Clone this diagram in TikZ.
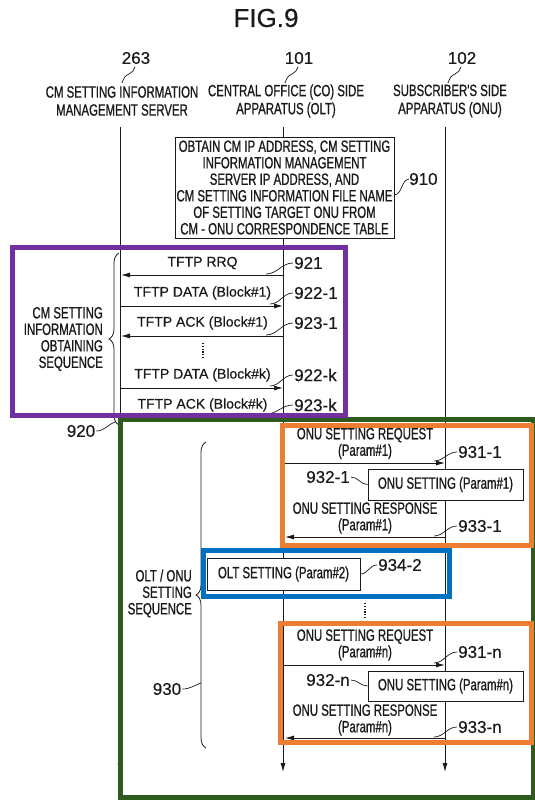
\documentclass[tikz,border=0pt]{standalone}
\usepackage{fontspec}
\setmainfont{Liberation Sans}
\newfontfamily\cf[FakeStretch=0.7,FakeBold=0.8]{Liberation Sans}
\newfontfamily\nf[FakeBold=0.4]{Liberation Sans}
\usetikzlibrary{arrows.meta,decorations.pathreplacing}
\definecolor{cpurple}{HTML}{7030A0}
\definecolor{cgreen}{HTML}{2E5A1E}
\definecolor{corange}{HTML}{ED7D31}
\definecolor{cblue}{HTML}{0070C0}
\definecolor{ink}{HTML}{1A1A1A}
\begin{document}
\begin{tikzpicture}[x=1pt,y=-1pt,
  cond/.style={font=\cf\fontsize{16.3}{16.5}\selectfont, align=center, inner sep=0pt, text=ink},
  hdr/.style={font=\cf\fontsize{16.3}{18}\selectfont, align=center, inner sep=0pt, text=ink},
  numl/.style={font=\nf\fontsize{17}{17}\selectfont, inner sep=0pt, text=ink},
  tftp/.style={font=\nf\fontsize{14}{14}\selectfont, inner sep=0pt, text=ink},
  life/.style={line width=0.9pt, draw=ink},
  msg/.style={line width=0.9pt, draw=ink, -{Latex[length=9pt,width=5pt]}},
  lead/.style={line width=0.7pt, draw=ink},
  frame/.style={line width=5pt},
  procbox/.style={draw=ink, line width=0.9pt, fill=white, inner sep=0pt, font=\cf\fontsize{16.3}{16.5}\selectfont, align=center, text=ink},
  brc/.style={line width=0.8pt, draw=ink, decorate, decoration={brace, amplitude=10pt}},
  dotl/.style={line width=1.3pt, draw=ink, dash pattern=on 1.2pt off 1.6pt},
]
\useasboundingbox (0,0) rectangle (535,801);
\fill[white] (0,0) rectangle (535,801);

% title and headers
\node[font=\nf\fontsize{26}{26}\selectfont, inner sep=0pt, text=ink] (fig) at (266,18) {FIG.9};
\node[numl] (n263) at (136,58) {263};
\node[numl] (n101) at (299,58) {101};
\node[numl] (n102) at (462,58) {102};
\node[hdr] (l263) at (122,101) {CM SETTING INFORMATION\\MANAGEMENT SERVER};
\node[hdr] (l101) at (286,101) {CENTRAL OFFICE (CO) SIDE\\APPARATUS (OLT)};
\node[hdr] (l102) at (450,101) {SUBSCRIBER'S SIDE\\APPARATUS (ONU)};
\draw[lead] (122,83) to[out=70,in=200] (129,74) to[out=20,in=250] (135,67);
\draw[lead] (285,83) to[out=70,in=200] (292,74) to[out=20,in=250] (298,67);
\draw[lead] (448,83) to[out=70,in=200] (455,74) to[out=20,in=250] (461,67);

% lifelines
\coordinate (t263) at (120,127); \coordinate (b263) at (120,772);
\coordinate (t101) at (283,127); \coordinate (b101) at (283,772);
\coordinate (t102) at (445,127); \coordinate (b102) at (445,772);
\draw[msg] (t263) -- (b263);
\draw[msg] (t101) -- (b101);
\draw[msg] (t102) -- (b102);

% step 910
\node[procbox, minimum width=219pt, minimum height=101pt] (b910) at (284.5,187.5)
  {OBTAIN CM IP ADDRESS, CM SETTING\\INFORMATION MANAGEMENT\\SERVER IP ADDRESS, AND\\CM SETTING INFORMATION FILE NAME\\OF SETTING TARGET ONU FROM\\CM - ONU CORRESPONDENCE TABLE};
\node[numl, anchor=west] (n910) at (409,179) {910};
\draw[lead] (b910.east |- 0,195) to[out=10,in=190] (n910.west);

% TFTP sequence
\node[tftp] (m921) at (202.5,263) {TFTP RRQ};
\coordinate (s921) at (283,275); \coordinate (e921) at (121,275);
\draw[msg] (s921) -- (e921);
\node[numl, anchor=west] (n921) at (294,263) {921};
\draw[lead] (266,274) to[out=0,in=180] ([xshift=-1pt]n921.west);

\node[tftp] (m9221) at (202.5,293) {TFTP DATA (Block\#1)};
\coordinate (s9221) at (121,306); \coordinate (e9221) at (283,306);
\draw[msg] (s9221) -- (e9221);
\node[numl, anchor=west] (n9221) at (294,293) {922-1};
\draw[lead] (270,304) to[out=0,in=180] ([xshift=-1pt]n9221.west);

\node[tftp] (m9231) at (202.5,323) {TFTP ACK (Block\#1)};
\coordinate (s9231) at (283,336); \coordinate (e9231) at (121,336);
\draw[msg] (s9231) -- (e9231);
\node[numl, anchor=west] (n9231) at (294,323) {923-1};
\draw[lead] (266,335) to[out=0,in=180] ([xshift=-1pt]n9231.west);

\coordinate (d1a) at (203,343); \coordinate (d1b) at (203,359);
\draw[dotl] (d1a) -- (d1b);

\node[tftp] (m922k) at (202.5,375) {TFTP DATA (Block\#k)};
\coordinate (s922k) at (121,388); \coordinate (e922k) at (283,388);
\draw[msg] (s922k) -- (e922k);
\node[numl, anchor=west] (n922k) at (294,375) {922-k};
\draw[lead] (270,386) to[out=0,in=180] ([xshift=-1pt]n922k.west);

\node[tftp] (m923k) at (202.5,405) {TFTP ACK (Block\#k)};
\coordinate (s923k) at (283,416); \coordinate (e923k) at (121,416);
\draw[msg] (s923k) -- (e923k);
\node[numl, anchor=west] (n923k) at (294,405) {923-k};
\draw[lead] (266,414) to[out=0,in=180] ([xshift=-1pt]n923k.west);

% brace 920
\coordinate (br1a) at (119,425); \coordinate (br1b) at (119,253);
\draw[brc] (br1a) -- (br1b);
\node[cond, align=right, anchor=east] (tcm) at (103,339) {CM SETTING\\INFORMATION\\OBTAINING\\SEQUENCE};
\node[numl] (n920) at (81,431) {920};
\draw[lead] ([xshift=1pt]n920.east) to[out=0,in=200] (115,422);

% ONU setting 1
\node[cond] (t9311) at (365,443.5) {ONU SETTING REQUEST\\(Param\#1)};
\coordinate (s9311) at (283,463); \coordinate (e9311) at (445,463);
\draw[msg] (s9311) -- (e9311);
\node[numl, anchor=west] (n9311) at (458,452) {931-1};
\draw[lead] (434,461) to[out=0,in=180] ([xshift=-1pt]n9311.west);
\node[procbox, minimum width=155pt, minimum height=31pt] (b9321) at (445.5,484.5) {ONU SETTING (Param\#1)};
\node[numl] (n9321) at (328,477) {932-1};
\draw[lead] ([xshift=1pt]n9321.east) to[out=0,in=180] (b9321.west);
\node[cond] (t9331) at (365,518) {ONU SETTING RESPONSE\\(Param\#1)};
\coordinate (s9331) at (445,537); \coordinate (e9331) at (285,537);
\draw[msg] (s9331) -- (e9331);
\node[numl, anchor=west] (n9331) at (458,526) {933-1};
\draw[lead] (434,536) to[out=0,in=180] ([xshift=-1pt]n9331.west);

% OLT setting
\node[procbox, minimum width=153pt, minimum height=32pt] (b9342) at (283.5,574) {OLT SETTING (Param\#2)};
\node[numl, anchor=west] (n9342) at (378,565) {934-2};
\draw[lead] (b9342.east) to[out=0,in=180] ([xshift=-1pt]n9342.west);

\coordinate (d2a) at (365,603); \coordinate (d2b) at (365,618);
\draw[dotl] (d2a) -- (d2b);

% ONU setting n
\node[cond] (t931n) at (365,645) {ONU SETTING REQUEST\\(Param\#n)};
\coordinate (s931n) at (283,665); \coordinate (e931n) at (445,665);
\draw[msg] (s931n) -- (e931n);
\node[numl, anchor=west] (n931n) at (458,652) {931-n};
\draw[lead] (434,663) to[out=0,in=180] ([xshift=-1pt]n931n.west);
\node[procbox, minimum width=155pt, minimum height=30pt] (b932n) at (445.5,686) {ONU SETTING (Param\#n)};
\node[numl] (n932n) at (328,680) {932-n};
\draw[lead] ([xshift=1pt]n932n.east) to[out=0,in=180] (b932n.west);
\node[cond] (t933n) at (365,720) {ONU SETTING RESPONSE\\(Param\#n)};
\coordinate (s933n) at (445,738); \coordinate (e933n) at (285,738);
\draw[msg] (s933n) -- (e933n);
\node[numl, anchor=west] (n933n) at (458,727) {933-n};
\draw[lead] (434,737) to[out=0,in=180] ([xshift=-1pt]n933n.west);

% brace 930
\coordinate (br2a) at (206,748); \coordinate (br2b) at (206,442);
\draw[brc] (br2a) -- (br2b);
\node[cond, align=right, anchor=east] (tolt) at (192,593.5) {OLT / ONU\\SETTING\\SEQUENCE};
\node[numl] (n930) at (167,689) {930};
\draw[lead] ([xshift=1pt]n930.east) to[out=0,in=200] (201,683);

% coloured frames
\draw[frame, cgreen] (120,419.5) rectangle (533,797);
\draw[frame, cpurple] (12,247) rectangle (345.5,415.5);
\draw[frame, corange] (282,425) rectangle (531,545);
\draw[frame, corange] (280,623.5) rectangle (531,742.5);
\draw[frame, cblue] (203,550) rectangle (449,596);
\end{tikzpicture}
\end{document}
